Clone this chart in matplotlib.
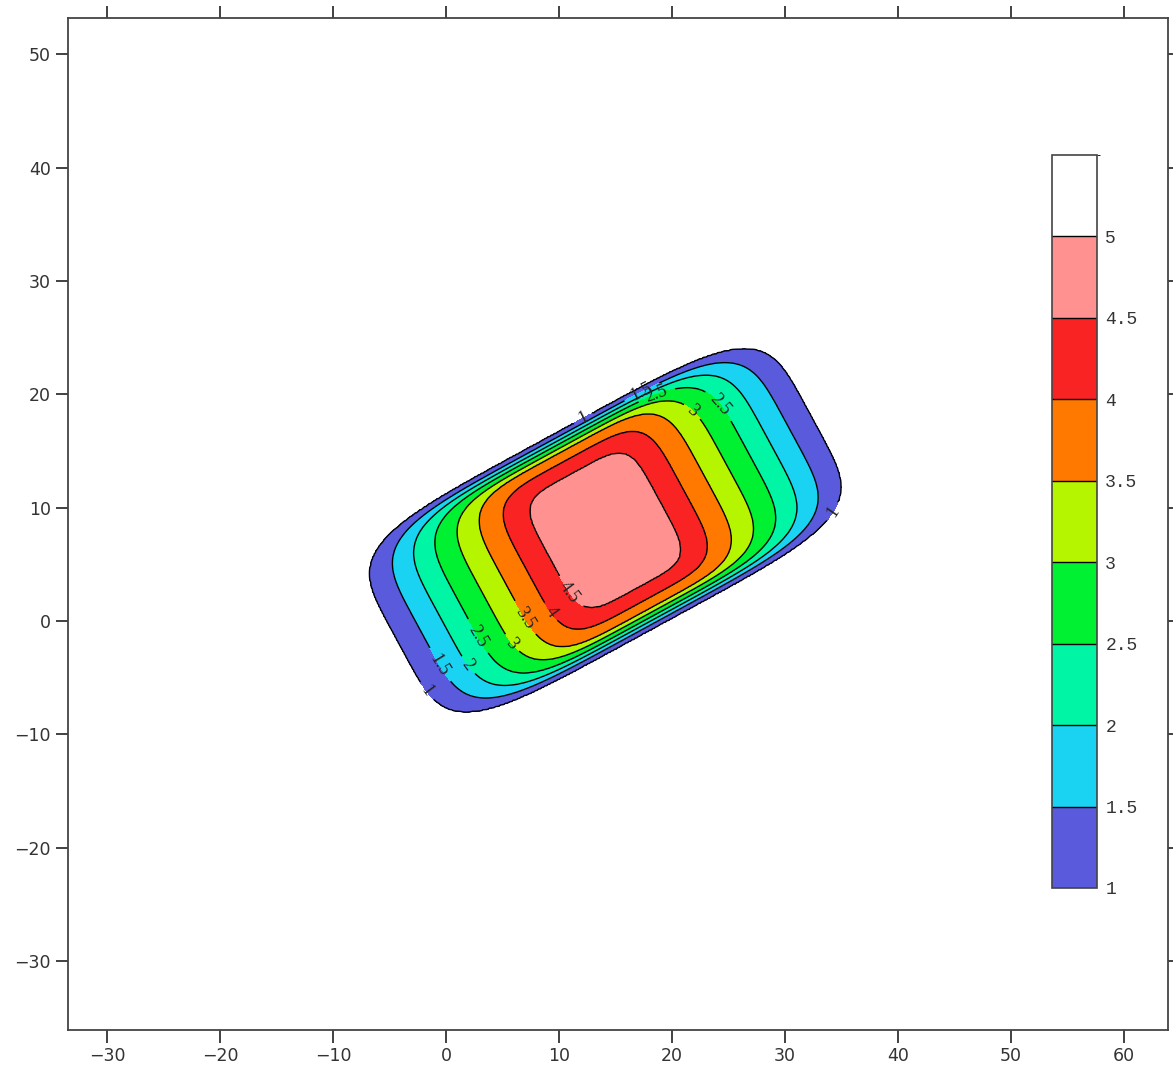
import numpy as np
import matplotlib

matplotlib.use("Agg")
import matplotlib.pyplot as plt
from matplotlib.colors import ListedColormap, BoundaryNorm

# contour levels and the rounded-box outline of each level
LEVELS = [1.0, 1.5, 2.0, 2.5, 3.0, 3.5, 4.0, 4.5]
HALF_LEN = [20.8, 18.6, 16.5, 14.4, 12.2, 10.0, 7.8, 5.5]   # along the long axis
HALF_WID = [9.6, 9.25, 8.95, 8.65, 8.3, 7.95, 7.1, 5.85]    # across it
SHAPE_EXP = [5, 5, 5, 5, 5, 5, 5, 5]
CENTER = (14.1, 8.0)
ANGLE_DEG = 28.5

BAND_EDGES = [1.0, 1.5, 2.0, 2.5, 3.0, 3.5, 4.0, 4.5, 5.0, 5.5]
BAND_COLORS = ["#5a5adc", "#1ad2f2", "#00f5a5", "#00f032", "#b6f500",
               "#ff7800", "#fa2323", "#ff9191", "#ffffff"]
CBAR_TICKS = [1, 1.5, 2, 2.5, 3, 3.5, 4, 4.5, 5]

X_TICKS = [-30, -20, -10, 0, 10, 20, 30, 40, 50, 60]
Y_TICKS = [-30, -20, -10, 0, 10, 20, 30, 40, 50]

# where the contour labels sit (data coords)
LABEL_POS = [
    (11.97, 18.3), (34.0, 9.7), (-1.60, -6.08),
    (-0.27, -3.70), (17.3, 20.3),
    (2.22, -3.70), (18.6, 20.1),
    (3.28, -1.06), (23.67, 18.61),
    (5.84, -1.94), (21.9, 18.6),
    (7.09, 0.35),
    (9.22, 0.79),
    (11.26, 2.73),
]


def build_field(xx, yy):
    """Blend the per-level outlines into one scalar field."""
    t = np.radians(ANGLE_DEG)
    dx, dy = xx - CENTER[0], yy - CENTER[1]
    u = dx * np.cos(t) + dy * np.sin(t)
    v = -dx * np.sin(t) + dy * np.cos(t)
    g = []
    for a, b, p in zip(HALF_LEN, HALF_WID, SHAPE_EXP):
        g.append((np.abs(u / a) ** p + np.abs(v / b) ** p) ** (1.0 / p) - 1.0)
    g = np.array(g)
    z = 1.0 - g[0]  # outside the outer ring -> below 1
    for k in range(len(LEVELS) - 1):
        inside = (g[k] <= 0) & (g[k + 1] > 0)
        frac = -g[k] / (g[k + 1] - g[k])
        z = np.where(inside, LEVELS[k] + 0.5 * frac, z)
    core = g[-1] <= 0
    z = np.where(core, LEVELS[-1] + 0.45 * np.clip(-g[-1], 0, 1), z)
    return z


x = np.linspace(-34, 64, 700)
y = np.linspace(-37, 54, 650)
xx, yy = np.meshgrid(x, y)
zz = build_field(xx, yy)

fig = plt.figure(figsize=(11.73, 10.71), dpi=100)
ax = fig.add_axes([0.058, 0.0383, 0.9377, 0.9447])

cmap = ListedColormap(BAND_COLORS)
norm = BoundaryNorm(BAND_EDGES, cmap.N)
cf = ax.contourf(xx, yy, zz, levels=BAND_EDGES[:-1], cmap=ListedColormap(BAND_COLORS[:-1]),
                 norm=BoundaryNorm(BAND_EDGES[:-1], len(BAND_COLORS) - 1))
cs = ax.contour(xx, yy, zz, levels=LEVELS, colors="black", linewidths=1.0)
labels = ax.clabel(cs, manual=LABEL_POS, inline=True, fontsize=13,
                   fmt=lambda v: f"{v:g}", colors="#222222")
for t in labels:
    t.set_family(["Liberation Serif", "DejaVu Serif"])

ax.set_xlim(-33.45, 63.9)
ax.set_ylim(-36.1, 53.2)
ax.set_xticks(X_TICKS)
ax.set_yticks(Y_TICKS)
ax.tick_params(direction="out", length=9, width=1.3, labelsize=12.5,
               top=True, right=True, labeltop=False, labelright=False,
               colors="#333333")
for s in ax.spines.values():
    s.set_linewidth(1.3)
    s.set_color("#444444")

# colour bar drawn inside the plot area
cax = fig.add_axes([0.8968, 0.1709, 0.0384, 0.6844])
sm = matplotlib.cm.ScalarMappable(norm=norm, cmap=cmap)
cb = fig.colorbar(sm, cax=cax, boundaries=BAND_EDGES, ticks=CBAR_TICKS)
cb.outline.set_linewidth(1.2)
cb.outline.set_edgecolor("#444444")
for edge in BAND_EDGES[1:-1]:
    cax.axhline(edge, color="black", linewidth=1.0)
cax.tick_params(length=0, labelsize=13, pad=6, colors="#333333")
cax.set_yticklabels([f"{t:g}" for t in CBAR_TICKS])
for lab in cax.get_yticklabels():
    lab.set_family(["Liberation Mono", "DejaVu Sans Mono"])

fig.savefig("out.png", dpi=100)
